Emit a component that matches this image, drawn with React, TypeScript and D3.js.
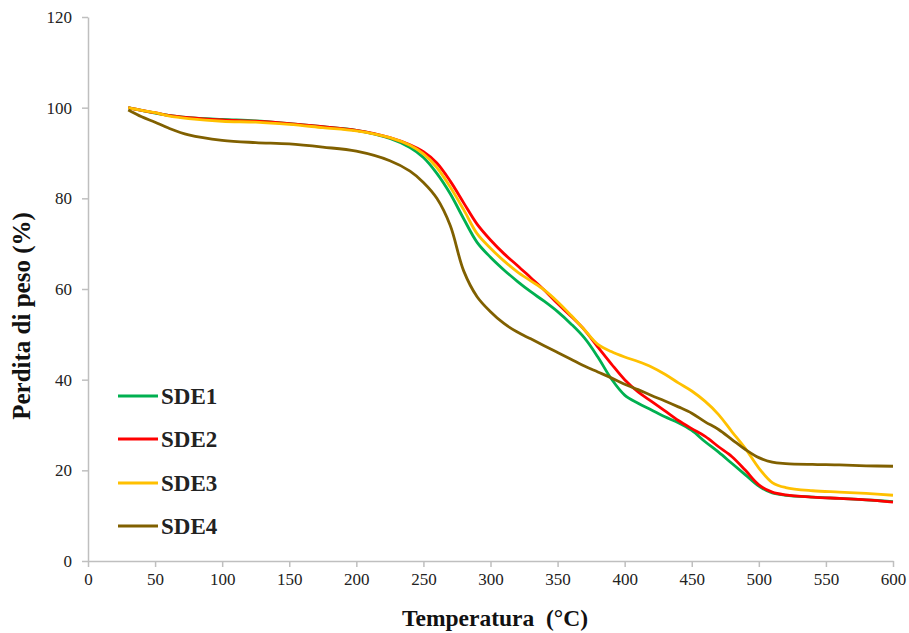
import React, { useEffect, useRef } from "react";
import * as d3 from "d3";

// temperature (°C) sample points, shared by all series
const temps = [30, 40, 50, 60, 75, 100, 125, 150, 175, 200, 225, 240, 250, 260, 270, 280, 290, 300, 310, 320, 330, 340, 350, 360, 370, 380, 390, 400, 410, 420, 430, 440, 450, 460, 470, 480, 490, 500, 510, 520, 540, 560, 580, 600];

const sde1 = [100, 99.4, 98.8, 98.3, 97.8, 97.4, 97.1, 96.5, 95.8, 95, 93.2, 91.2, 89, 85.5, 81, 75.5, 70.3, 67, 64.2, 61.7, 59.4, 57.3, 55, 52.3, 49.2, 45, 40.2, 36.6, 34.8, 33.3, 31.8, 30.5, 28.8, 26.3, 24, 21.5, 19, 16.5, 15, 14.5, 14.1, 13.8, 13.5, 13.1];
const sde2 = [100, 99.4, 98.9, 98.3, 97.8, 97.3, 97.0, 96.5, 95.8, 95, 93.4, 91.8, 90.3, 87.8, 83.8, 79, 74.3, 70.8, 67.8, 65.2, 62.5, 59.8, 56.8, 54, 51, 47.2, 43.5, 40, 37.3, 35.2, 33.1, 31, 29.2, 27.5, 25.2, 23, 20, 16.8, 15.2, 14.6, 14.1, 13.8, 13.5, 13.0];
const sde3 = [100, 99.4, 98.9, 98.2, 97.6, 97.0, 96.8, 96.3, 95.6, 94.9, 93.4, 91.7, 89.8, 86.8, 82.5, 77.5, 72.2, 69, 66.2, 63.8, 61.8, 59.8, 57.2, 54.2, 51, 47.8, 46.2, 45, 44, 42.8, 41.2, 39.3, 37.5, 35.2, 32.3, 28.5, 24.8, 20.5, 17.3, 16.2, 15.5, 15.2, 14.9, 14.5];
const sde4 = [99.5, 98, 96.8, 95.5, 94, 92.8, 92.3, 92, 91.3, 90.4, 88.3, 86, 83.5, 80, 74, 64, 58.3, 55, 52.4, 50.5, 49, 47.5, 46, 44.5, 43, 41.7, 40.4, 39, 37.8, 36.5, 35.3, 34, 32.6, 30.7, 29, 26.8, 24.6, 22.8, 21.8, 21.5, 21.3, 21.2, 21.0, 20.9];

const seriesNames = ["SDE1", "SDE2", "SDE3", "SDE4"];
const seriesColors = ["#00b050", "#ff0000", "#ffc000", "#806000"];
const seriesValues = [sde1, sde2, sde3, sde4];

const xTicks = [0, 50, 100, 150, 200, 250, 300, 350, 400, 450, 500, 550, 600];
const yTicks = [0, 20, 40, 60, 80, 100, 120];

export default function App() {
  const ref = useRef<SVGSVGElement>(null);

  useEffect(() => {
    const W = 909, H = 633;
    const margin = { top: 17, right: 16, bottom: 72, left: 88 };
    const svg = d3.select(ref.current);
    svg.selectAll("*").remove();

    const font = "'Liberation Serif', 'Times New Roman', serif";

    const x = d3.scaleLinear().domain([0, 600]).range([margin.left, W - margin.right]);
    const y = d3.scaleLinear().domain([0, 120]).range([H - margin.bottom, margin.top]);

    // Axes
    const xAxis = svg.append("g")
      .attr("transform", `translate(0,${y(0)})`)
      .call(d3.axisBottom(x).tickValues(xTicks).tickSize(6).tickSizeOuter(0).tickPadding(6));
    const yAxis = svg.append("g")
      .attr("transform", `translate(${x(0)},0)`)
      .call(d3.axisLeft(y).tickValues(yTicks).tickSize(6).tickSizeOuter(0).tickPadding(10));

    [xAxis, yAxis].forEach(g => {
      g.select(".domain").attr("stroke", "#bfbfbf").attr("stroke-width", 1.5);
      g.selectAll(".tick line").attr("stroke", "#bfbfbf").attr("stroke-width", 1.5);
      g.selectAll(".tick text")
        .attr("fill", "#222")
        .style("font-family", font)
        .style("font-size", "17px");
    });

    // Lines
    const line = d3.line<number>()
      .x((d, i) => x(temps[i]))
      .y(d => y(d))
      .curve(d3.curveCatmullRom.alpha(0.5));

    seriesValues.forEach((vals, i) => {
      svg.append("path")
        .datum(vals)
        .attr("fill", "none")
        .attr("stroke", seriesColors[i])
        .attr("stroke-width", 2.8)
        .attr("stroke-linejoin", "round")
        .attr("d", line);
    });

    // Legend
    const legendY = [396, 439, 483, 526];
    seriesNames.forEach((name, i) => {
      svg.append("line")
        .attr("x1", 118).attr("x2", 158)
        .attr("y1", legendY[i]).attr("y2", legendY[i])
        .attr("stroke", seriesColors[i])
        .attr("stroke-width", 2.8);
      svg.append("text")
        .attr("x", 161)
        .attr("y", legendY[i] + 8)
        .attr("fill", "#222")
        .style("font-family", font)
        .style("font-size", "23px")
        .style("font-weight", "bold")
        .text(name);
    });

    // Axis titles
    svg.append("text")
      .attr("x", 495)
      .attr("y", 626)
      .attr("text-anchor", "middle")
      .attr("fill", "#111")
      .style("font-family", font)
      .style("font-size", "23.5px")
      .style("font-weight", "bold")
      .style("white-space", "pre")
      .text("Temperatura  (°C)");

    svg.append("text")
      .attr("transform", `translate(30,${316}) rotate(-90)`)
      .attr("text-anchor", "middle")
      .attr("fill", "#111")
      .style("font-family", font)
      .style("font-size", "25px")
      .style("font-weight", "bold")
      .text("Perdita di peso (%)");
  }, []);

  return (
    <svg
      ref={ref}
      width={909}
      height={633}
      style={{ position: "absolute", left: 0, top: 0, background: "#fff" }}
    />
  );
}
